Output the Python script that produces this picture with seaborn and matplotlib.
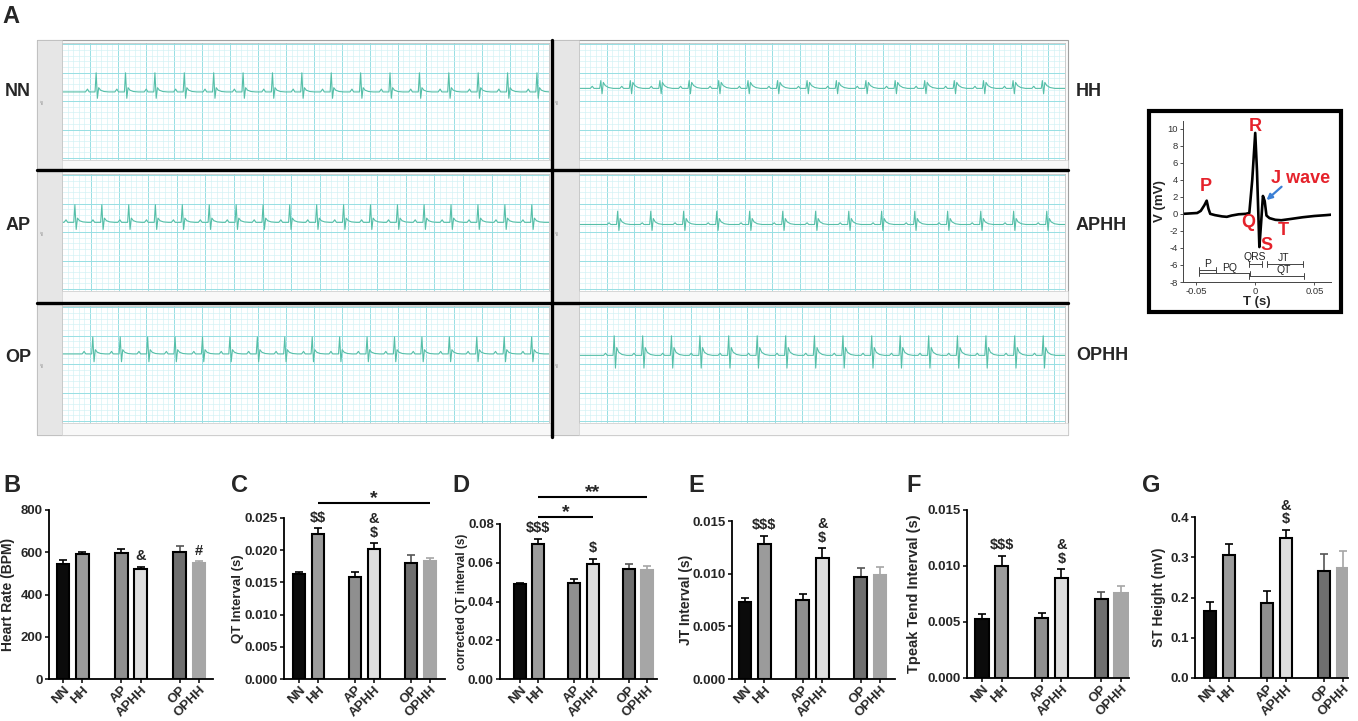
import numpy as np
import pandas as pd
import matplotlib
matplotlib.use("Agg")
import matplotlib.pyplot as plt
import seaborn as sns
from matplotlib.patches import Rectangle
from matplotlib.lines import Line2D

# ---------------------------------------------------------------- data
GROUPS = ["NN", "HH", "AP", "APHH", "OP", "OPHH"]
POSITIONS = [0, 1, 3, 4, 6, 7]
BAR_COLORS = ["#0b0b0b", "#9b9b9b", "#8f8f8f", "#dedede", "#6f6f6f", "#a6a6a6"]
EDGE_COLORS = ["#000000", "#000000", "#000000", "#000000", "#000000", "#a6a6a6"]
ERR_COLORS = ["#000000", "#000000", "#000000", "#000000", "#555555", "#a6a6a6"]

HR_MEAN = [546, 590, 596, 520, 603, 547]
HR_SEM = [15, 11, 20, 11, 25, 10]
QT_MEAN = [0.0163, 0.0225, 0.0159, 0.0202, 0.0180, 0.0183]
QT_SEM = [0.0003, 0.0009, 0.0007, 0.0009, 0.0012, 0.0005]
QTC_MEAN = [0.0488, 0.0697, 0.0497, 0.0593, 0.0568, 0.0565]
QTC_SEM = [0.0010, 0.0028, 0.0020, 0.0027, 0.0028, 0.0018]
JT_MEAN = [0.00733, 0.0128, 0.00748, 0.0115, 0.0097, 0.0099]
JT_SEM = [0.0004, 0.0008, 0.0006, 0.0009, 0.00085, 0.0007]
TPTE_MEAN = [0.00526, 0.01004, 0.00535, 0.00891, 0.00707, 0.00757]
TPTE_SEM = [0.00044, 0.00086, 0.00044, 0.00079, 0.00059, 0.00066]
ST_MEAN = [0.167, 0.305, 0.186, 0.347, 0.266, 0.274]
ST_SEM = [0.023, 0.029, 0.029, 0.021, 0.042, 0.042]

# ECG traces (panel A)
ECG_NAMES = ["NN", "HH", "AP", "APHH", "OP", "OPHH"]
ECG_BASE = [0.65, 0.90, 0.69, 0.54, 0.72, 0.62]
BEAT_DT = [-0.038, -0.031, -0.025, -0.004, 0.0, 0.0045, 0.009, 0.016, 0.028, 0.045]
BEAT_NN = [0, 0.20, 0, 0, 1.35, -0.45, 0.30, 0.12, 0.03, 0]
BEAT_HH = [0, 0.15, 0, 0, 0.55, -0.38, 0.42, 0.20, 0.06, 0]
BEAT_AP = [0, 0.18, 0, 0, 1.24, -0.50, 0.30, 0.12, 0.03, 0]
BEAT_APHH = [0, 0.12, 0, 0, 0.94, -0.42, 0.42, 0.18, 0.05, 0]
BEAT_OP = [0, 0.18, 0, 0, 1.20, -0.55, 0.30, 0.12, 0.03, 0]
BEAT_OPHH = [0, 0.15, 0, 0, 1.38, -0.90, 0.55, 0.22, 0.06, 0]
R_NN = [0.067, 0.172, 0.277, 0.382, 0.487, 0.592, 0.697, 0.802, 0.907, 1.012,
        1.117, 1.222, 1.327, 1.432, 1.537, 1.642]
R_HH = [0.003, 0.110, 0.217, 0.323, 0.430, 0.536, 0.643, 0.750, 0.856, 0.963,
        1.069, 1.176, 1.283, 1.389, 1.496, 1.602]
R_AP = [0.028, 0.122, 0.216, 0.309, 0.403, 0.497, 0.591, 0.685, 0.778, 0.872,
        0.966, 1.060, 1.154, 1.247, 1.341, 1.435, 1.529, 1.623]
R_APHH = [0.078, 0.198, 0.317, 0.437, 0.556, 0.676, 0.795, 0.915, 1.034, 1.154,
          1.273, 1.393, 1.512, 1.632]
R_OP = [0.050, 0.148, 0.246, 0.344, 0.442, 0.540, 0.638, 0.736, 0.834, 0.932,
        1.030, 1.128, 1.226, 1.324, 1.422, 1.520, 1.618]
R_OPHH = [0.081, 0.183, 0.286, 0.388, 0.491, 0.593, 0.695, 0.798, 0.900, 1.003,
          1.105, 1.207, 1.310, 1.412, 1.515, 1.617]
TLAB_NN = ["33.3", "33.4", "33.5", "33.6", "33.7", "33.8", "33.9", "34", "34.1",
           "34.2", "34.3", "34.4", "34.5", "34.6", "34.7", "34.8", "34.9"]
TLAB_HH = ["283.6", "283.7", "283.8", "283.9", "284", "284.1", "284.2", "284.3",
           "284.4", "284.5", "284.6", "284.7", "284.8", "284.9", "285", "285.1", "285.2"]
TLAB_AP = ["4.8", "4.9", "5", "5.1", "5.2", "5.3", "5.4", "5.5", "5.6", "5.7",
           "5.8", "5.9", "6", "6.1", "6.2", "6.3"]
TLAB_APHH = ["4.5", "4.6", "4.7", "4.8", "4.9", "5", "5.1", "5.2", "5.3", "5.4",
             "5.5", "5.6", "5.7", "5.8", "5.9", "6", "6.1"]
TLAB_OP = ["30", "30.1", "30.2", "30.3", "30.4", "30.5", "30.6", "30.7", "30.8",
           "30.9", "31", "31.1", "31.2", "31.3", "31.4", "31.5", "31.6"]
TLAB_OPHH = ["158.3", "158.4", "158.5", "158.6", "158.7", "158.8", "158.9", "159",
             "159.1", "159.2", "159.3", "159.4", "159.5", "159.6", "159.7", "159.8", "159.9"]
TLAB_OFF = [0.045, 0.024, 0.083, 0.038, 0.040, 0.055]

# schematic ECG (inset)
INSET_T = [-0.061, -0.055, -0.049, -0.046, -0.043, -0.041, -0.0395, -0.038, -0.034,
           -0.028, -0.024, -0.020, -0.014, -0.008, -0.005, -0.0025, 0.0, 0.0015,
           0.0035, 0.005, 0.0065, 0.008, 0.0095, 0.012, 0.017, 0.022, 0.030, 0.040,
           0.050, 0.060, 0.064]
INSET_V = [0.0, 0.05, 0.1, 0.35, 1.0, 1.55, 0.6, 0.0, -0.15, -0.3, -0.35, -0.2,
           -0.05, 0.0, 0.1, 4.0, 9.5, 5.0, -3.9, -1.0, 2.1, 1.5, -0.2, -0.5, -0.7,
           -0.75, -0.6, -0.4, -0.25, -0.15, -0.1]

# ---------------------------------------------------------------- setup
sns.set_style("ticks")
plt.rcParams["font.family"] = ["Liberation Sans", "DejaVu Sans"]
plt.rcParams["font.weight"] = "bold"

W, H = 1358, 721
fig = plt.figure(figsize=(W / 100, H / 100), dpi=100)


def fx(x):
    return x / W


def fy(y):
    return 1 - y / H


def rect(l, t, r, b):
    return [l / W, 1 - b / H, (r - l) / W, (b - t) / H]


def fig_line(x0, y0, x1, y1, **kw):
    fig.add_artist(Line2D([fx(x0), fx(x1)], [fy(y0), fy(y1)],
                          transform=fig.transFigure, **kw))


def fig_rect(l, t, r, b, **kw):
    fig.add_artist(Rectangle((fx(l), fy(b)), (r - l) / W, (b - t) / H,
                             transform=fig.transFigure, **kw))


# ---------------------------------------------------------------- panel A
ECG_BEATS = [BEAT_NN, BEAT_HH, BEAT_AP, BEAT_APHH, BEAT_OP, BEAT_OPHH]
ECG_R = [R_NN, R_HH, R_AP, R_APHH, R_OP, R_OPHH]
ECG_TLAB = [TLAB_NN, TLAB_HH, TLAB_AP, TLAB_APHH, TLAB_OP, TLAB_OPHH]
ECG_ROW = [0, 0, 1, 1, 2, 2]
ECG_COL = [0, 1, 0, 1, 0, 1]
ROW_OUT = [(40, 170), (170, 303), (303, 435)]
ROW_PLOT = [(43, 160), (174, 291), (306, 423)]
COL_OUT = [(37, 552), (552, 1068)]
COL_PLOT = [(62, 549), (579, 1065)]
ECG_COLOR = "#56bfa8"

fig_rect(37, 40, 1068, 435, facecolor="#fbfbfb", edgecolor="#a0a0a0", lw=0.8, zorder=0)

for k, name in enumerate(ECG_NAMES):
    row, col = ECG_ROW[k], ECG_COL[k]
    rt, rb = ROW_OUT[row]
    pt, pb = ROW_PLOT[row]
    cl, cr = COL_OUT[col]
    pl, pr = COL_PLOT[col]
    fig_rect(cl, rt, pl, rb, facecolor="#e6e6e6", edgecolor="#c0c0c0", lw=0.4, zorder=0.5)
    fig_rect(pl, pb, cr, rb, facecolor="#f8f8f8", edgecolor="#d0d0d0", lw=0.4, zorder=0.5)
    fig.text(fx(cl + 6), fy((pt + pb) / 2), "mV", rotation=90, fontsize=2.5,
             color="#777", ha="center", va="center", fontweight="normal")

    ax = fig.add_axes(rect(pl, pt, pr, pb))
    ax.set_facecolor("white")
    base = ECG_BASE[k]
    tt = [-0.1]
    vv = [base]
    for r in ECG_R[k]:
        for dt, dv in zip(BEAT_DT, ECG_BEATS[k]):
            tt.append(r + dt)
            vv.append(base + dv)
    tt.append(1.8)
    vv.append(base)
    sns.lineplot(x=tt, y=vv, sort=False, estimator=None, color=ECG_COLOR,
                 lw=0.8, ax=ax)
    ax.set_xlim(0, 1.68)
    ax.set_ylim(-4.15, 4.1)
    off = TLAB_OFF[k]
    labs = ECG_TLAB[k]
    ax.set_xticks([off + 0.1 * i for i in range(len(labs))])
    ax.set_xticklabels(labs)
    ax.set_xticks(np.arange(off - 0.1, 1.7, 0.02), minor=True)
    ax.set_yticks([4, 2, 0, -2, -4])
    ax.set_yticklabels(["4", "2", "0", "-2", "-4"])
    ax.set_yticks(np.arange(-4, 4.01, 0.4), minor=True)
    ax.grid(which="minor", color="#d2f2f4", lw=0.45)
    ax.grid(which="major", color="#97dfe3", lw=0.7)
    ax.set_axisbelow(True)
    ax.tick_params(which="minor", length=0)
    ax.tick_params(which="major", length=1.5, width=0.4, labelsize=3.2, pad=1.5,
                   colors="#666666")
    for t in ax.get_xticklabels() + ax.get_yticklabels():
        t.set_fontweight("normal")
    for s in ax.spines.values():
        s.set_color("#b8b8b8")
        s.set_linewidth(0.5)
    ax.set_xlabel("")
    ax.set_ylabel("")

# thick dividers
fig_line(552, 40, 552, 437, color="black", lw=2.4, zorder=5)
fig_line(37, 170, 1068, 170, color="black", lw=2.4, zorder=5)
fig_line(37, 303, 1068, 303, color="black", lw=2.4, zorder=5)

# row labels
for name, y in zip(["NN", "AP", "OP"], [91, 225, 357]):
    fig.text(fx(31), fy(y), name, ha="right", va="center", fontsize=13, fontweight="bold")
for name, y in zip(["HH", "APHH", "OPHH"], [91, 225, 356]):
    fig.text(fx(1076), fy(y), name, ha="left", va="center", fontsize=13, fontweight="bold")

# inset schematic
fig_rect(1149, 111, 1341, 312, facecolor="white", edgecolor="black", lw=3.0, zorder=1)
axi = fig.add_axes(rect(1183, 121, 1331, 282))
axi.set_zorder(3)
sns.lineplot(x=INSET_T, y=INSET_V, sort=False, estimator=None, color="black",
             lw=1.9, ax=axi)
axi.set_xlim(-0.061, 0.064)
axi.set_ylim(-8, 10.9)
axi.set_yticks(list(range(-8, 11, 2)))
axi.set_yticklabels([str(v) for v in range(-8, 11, 2)])
axi.set_xticks([-0.05, 0, 0.05])
axi.set_xticklabels(["-0.05", "0", "0.05"])
axi.tick_params(length=2, width=0.6, labelsize=6.8, pad=1.5, colors="#333333")
for t in axi.get_xticklabels() + axi.get_yticklabels():
    t.set_fontweight("normal")
for s in ["top", "right"]:
    axi.spines[s].set_visible(False)
for s in ["left", "bottom"]:
    axi.spines[s].set_linewidth(0.7)
    axi.spines[s].set_color("#444444")
axi.set_xlabel("T (s)", fontsize=9.5, fontweight="bold", labelpad=0)
axi.set_ylabel("V (mV)", fontsize=9.5, fontweight="bold", labelpad=1)
RED = "#e5222b"
for txt, x, y in [("P", -0.042, 3.2), ("R", 0.0, 10.3), ("Q", -0.0055, -1.0),
                  ("S", 0.0097, -3.7), ("T", 0.0235, -1.9)]:
    axi.text(x, y, txt, color=RED, fontsize=13, fontweight="bold", ha="center", va="center")
axi.text(0.0387, 4.1, "J wave", color=RED, fontsize=13, fontweight="bold",
         ha="center", va="center")
axi.annotate("", xy=(0.0078, 1.4), xytext=(0.024, 3.4),
             arrowprops=dict(arrowstyle="-|>", color="#3a7fd5", lw=1.6, mutation_scale=8))


def bracket(x0, x1, y):
    axi.plot([x0, x1], [y, y], color="#444444", lw=0.7)
    for x in (x0, x1):
        axi.plot([x, x], [y - 0.35, y + 0.35], color="#444444", lw=0.7)


bracket(-0.0475, -0.0331, -6.6)
bracket(-0.0475, -0.0047, -7.0)
bracket(-0.0055, 0.0055, -5.85)
bracket(0.010, 0.040, -5.85)
bracket(-0.0055, 0.0415, -7.35)
for txt, x, y in [("P", -0.040, -5.85), ("PQ", -0.022, -6.3), ("QRS", 0.0, -5.1),
                  ("JT", 0.024, -5.15), ("QT", 0.024, -6.6)]:
    axi.text(x, y, txt, fontsize=7.5, color="#222222", ha="center", va="center",
             fontweight="normal")

# ---------------------------------------------------------------- bar panels
def bar_panel(rpx, xpx, label_x, means, sems, ylim, yticks, yticklabels, ylabel,
              ylsize, annots, sigs):
    l, t, r, b = rpx
    nn_px, ophh_px = xpx
    unit = (ophh_px - nn_px) / 7.0
    ax = fig.add_axes(rect(l, t, r, b))
    df = pd.DataFrame({"pos": POSITIONS, "value": means, "group": GROUPS})
    sns.barplot(data=df, x="pos", y="value", hue="group", hue_order=GROUPS,
                palette=BAR_COLORS, native_scale=True, dodge=False, width=0.66,
                errorbar=None, legend=False, ax=ax, zorder=2)
    for p in ax.patches:
        cx = p.get_x() + p.get_width() / 2
        i = int(np.argmin([abs(cx - q) for q in POSITIONS]))
        p.set_edgecolor(EDGE_COLORS[i])
        p.set_linewidth(1.5)
    for i, (x, m, s) in enumerate(zip(POSITIONS, means, sems)):
        ax.errorbar([x], [m], yerr=[[0], [s]], fmt="none", ecolor=ERR_COLORS[i],
                    elinewidth=1.2, capsize=3, capthick=1.2, zorder=1)
    ax.set_xlim(-(nn_px - l) / unit, 7 + (r - ophh_px) / unit)
    ax.set_ylim(*ylim)
    ax.set_yticks(yticks)
    ax.set_yticklabels(yticklabels)
    ax.set_xticks(POSITIONS)
    ax.set_xticklabels(GROUPS, rotation=45, ha="right", rotation_mode="anchor")
    ax.tick_params(axis="both", direction="out", length=3, width=1.3, pad=1.5)
    ax.tick_params(axis="y", labelsize=9.5)
    ax.tick_params(axis="x", labelsize=9.5, pad=0.5)
    for tl in ax.get_xticklabels() + ax.get_yticklabels():
        tl.set_fontweight("bold")
    sns.despine(ax=ax)
    for s in ["left", "bottom"]:
        ax.spines[s].set_linewidth(1.3)
        ax.spines[s].set_color("black")
    ax.set_xlabel("")
    ax.set_ylabel(ylabel, fontsize=ylsize, fontweight="bold")
    ax.yaxis.label.set_va("center")
    ax.yaxis.set_label_coords((label_x - l) / (r - l), 0.5)
    for i, txt in annots:
        ax.annotate(txt, xy=(POSITIONS[i], means[i] + sems[i]), xytext=(0, 2.5),
                    textcoords="offset points", ha="center", va="bottom",
                    fontsize=10.5, fontweight="bold", linespacing=0.95)
    for i, j, y, txt in sigs:
        ax.plot([POSITIONS[i], POSITIONS[j]], [y, y], color="black", lw=1.5,
                clip_on=False, solid_capstyle="butt")
        ax.text((POSITIONS[i] + POSITIONS[j]) / 2, y, txt, ha="center",
                va="baseline", fontsize=14, fontweight="bold")
    return ax


bar_panel((49, 510, 213, 679), (63, 199), 8, HR_MEAN, HR_SEM, (0, 800),
          [0, 200, 400, 600, 800], ["0", "200", "400", "600", "800"],
          "Heart Rate (BPM)", 10, [(3, "&"), (5, "#")], [])
bar_panel((284, 518, 445, 679), (299, 430), 238, QT_MEAN, QT_SEM, (0, 0.025),
          [0, 0.005, 0.01, 0.015, 0.02, 0.025],
          ["0.000", "0.005", "0.010", "0.015", "0.020", "0.025"],
          "QT Interval (s)", 9.5, [(1, r"\$\$"), (3, "&\n\\$")],
          [(1, 5, 0.0273, "*")])
bar_panel((500, 524, 657, 679), (520, 647), 462, QTC_MEAN, QTC_SEM, (0, 0.08),
          [0, 0.02, 0.04, 0.06, 0.08], ["0.00", "0.02", "0.04", "0.06", "0.08"],
          "corrected QT interval (s)", 8.5, [(1, r"\$\$\$"), (3, r"\$")],
          [(1, 3, 0.0836, "*"), (1, 5, 0.0939, "**")])
bar_panel((732, 521, 895, 679), (745, 880), 686, JT_MEAN, JT_SEM, (0, 0.015),
          [0, 0.005, 0.01, 0.015], ["0.000", "0.005", "0.010", "0.015"],
          "JT Interval (s)", 10, [(1, r"\$\$\$"), (3, "&\n\\$")], [])
bar_panel((967, 510, 1129, 678), (982, 1121), 914, TPTE_MEAN, TPTE_SEM, (0, 0.015),
          [0, 0.005, 0.01, 0.015], ["0.000", "0.005", "0.010", "0.015"],
          "Tpeak Tend Interval (s)", 10.5, [(1, r"\$\$\$"), (3, "&\n\\$")], [])
bar_panel((1195, 517, 1348, 678), (1210, 1343), 1159, ST_MEAN, ST_SEM, (0, 0.4),
          [0, 0.1, 0.2, 0.3, 0.4], ["0.0", "0.1", "0.2", "0.3", "0.4"],
          "ST Height (mV)", 10, [(3, "&\n\\$")], [])

# panel letters
for letter, x, y in [("A", 2, 5), ("B", 3, 474), ("C", 231, 474), ("D", 452, 474),
                     ("E", 688, 474), ("F", 906, 474), ("G", 1142, 474)]:
    fig.text(fx(x), fy(y), letter, ha="left", va="top", fontsize=17, fontweight="bold")

fig.savefig("out.png", dpi=100)
